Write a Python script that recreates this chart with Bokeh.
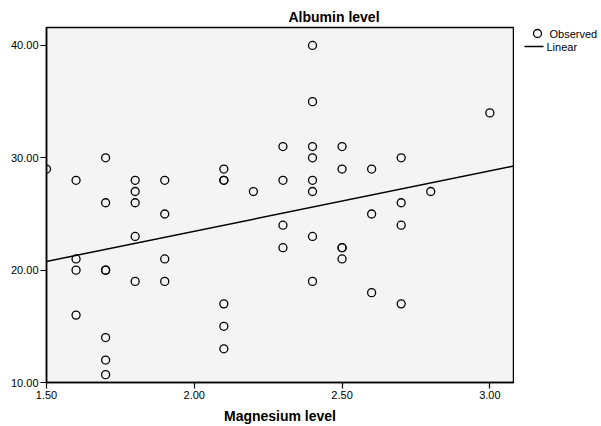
import numpy as np
from bokeh.plotting import figure
from bokeh.layouts import row
from bokeh.core.properties import value
from bokeh.models import (Range1d, FixedTicker, NumeralTickFormatter,
                          ColumnDataSource)
from bokeh.embed import file_html
from bokeh.resources import INLINE

# Observed data (Magnesium level vs Albumin level)
magnesium = [1.5,
             1.6, 1.6, 1.6, 1.6,
             1.7, 1.7, 1.7, 1.7, 1.7, 1.7, 1.7,
             1.8, 1.8, 1.8, 1.8, 1.8,
             1.9, 1.9, 1.9, 1.9,
             2.1, 2.1, 2.1, 2.1, 2.1, 2.1,
             2.2,
             2.3, 2.3, 2.3, 2.3,
             2.4, 2.4, 2.4, 2.4, 2.4, 2.4, 2.4, 2.4,
             2.5, 2.5, 2.5, 2.5, 2.5,
             2.6, 2.6, 2.6,
             2.7, 2.7, 2.7, 2.7,
             2.8,
             3.0]
albumin = [29,
           28, 21, 20, 16,
           30, 26, 20, 20, 14, 12, 10.7,
           28, 27, 26, 23, 19,
           28, 25, 21, 19,
           29, 28, 28, 17, 15, 13,
           27,
           31, 28, 24, 22,
           40, 35, 31, 30, 28, 27, 23, 19,
           31, 29, 22, 22, 21,
           29, 25, 18,
           30, 26, 24, 17,
           27,
           34]
x_ticks = [1.5, 2.0, 2.5, 3.0]
y_ticks = [10, 20, 30, 40]
legend_labels = ["Observed", "Linear"]

x_min, x_max = 1.5, 3.08
y_min, y_max = 10, 41.6

slope, intercept = np.polyfit(magnesium, albumin, 1)
fit_x = [x_min, x_max]
fit_y = [intercept + slope * v for v in fit_x]

p = figure(width=514, height=426, output_backend="svg", toolbar_location=None,
           x_range=Range1d(x_min, x_max), y_range=Range1d(y_min, y_max),
           min_border_left=46, min_border_right=1, min_border_top=27,
           min_border_bottom=41)

p.background_fill_color = "#f4f4f4"
p.border_fill_color = "white"
p.outline_line_color = "black"
p.outline_line_width = 1.5
p.grid.visible = False

p.title.text = "Albumin level"
p.title.text_font = "Liberation Sans"
p.title.text_font_style = "bold"
p.title.text_font_size = "14px"
p.title.text_color = "black"
p.title.align = "left"
p.title.offset = 242
p.title.standoff = 5

for ax in (p.xaxis[0], p.yaxis[0]):
    ax.major_label_text_font = "Liberation Sans"
    ax.major_label_text_font_size = "11px"
    ax.major_label_text_color = "black"
    ax.axis_line_color = "black"
    ax.axis_line_width = 1.5
    ax.major_tick_line_color = "black"
    ax.major_tick_line_width = 1.2
    ax.major_tick_out = 6
    ax.major_tick_in = 0
    ax.minor_tick_line_color = None
    ax.major_label_standoff = 2
    ax.formatter = NumeralTickFormatter(format="0.00")

p.xaxis.ticker = FixedTicker(ticks=x_ticks)
p.yaxis.ticker = FixedTicker(ticks=y_ticks)
p.xaxis.axis_label = "Magnesium level"
p.xaxis.axis_label_text_font = "Liberation Sans"
p.xaxis.axis_label_text_font_style = "bold"
p.xaxis.axis_label_text_font_size = "14px"
p.xaxis.axis_label_text_color = "black"
p.xaxis.axis_label_standoff = 6

src = ColumnDataSource(dict(x=magnesium, y=albumin))
p.scatter("x", "y", source=src, marker="circle", size=8,
          fill_color=None, line_color="black", line_width=1.3)
p.line(fit_x, fit_y, line_color="black", line_width=1.5)

# Legend panel to the right of the plot (pixel-like coordinates, y from
# the top of the plot frame, which the row layout aligns with the main frame)
q = figure(frame_width=87, frame_height=358, output_backend="svg",
           toolbar_location=None,
           title=None, x_axis_location=None, y_axis_location=None,
           x_range=Range1d(0, 87), y_range=Range1d(358, 0),
           min_border=0, min_border_left=0, min_border_right=0,
           min_border_top=0, min_border_bottom=0)
q.outline_line_color = None
q.background_fill_color = "white"
q.border_fill_color = "white"
q.grid.visible = False

q.scatter([23], [6], marker="circle", size=8, fill_color=None,
          line_color="black", line_width=1.3)
q.line([10, 29], [19, 19], line_color="black", line_width=1.5)
q.text([35, 32], [6, 19], text=legend_labels,
       text_font=value("Liberation Sans"), text_font_size="11px",
       text_color="black", text_baseline="middle", text_align="left")

layout = row(p, q, spacing=0)
open("out.html", "w").write(file_html(layout, INLINE))
